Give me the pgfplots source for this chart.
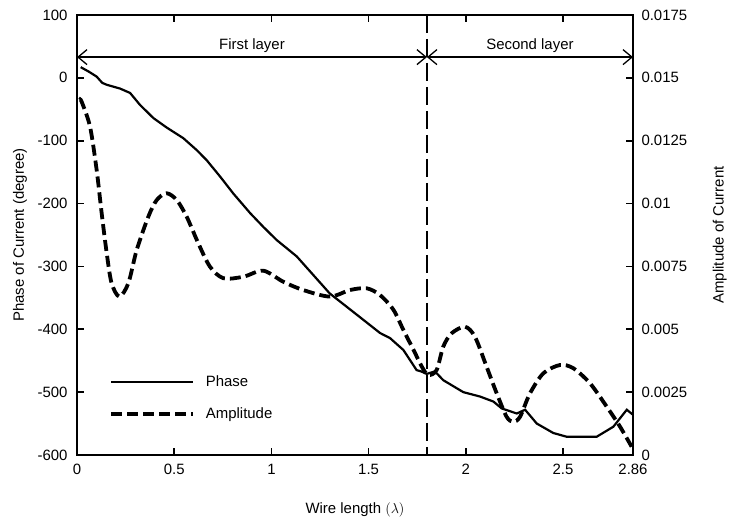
\documentclass[border=0pt]{standalone}
\usepackage{pgfplots}
\pgfplotsset{compat=1.18}
\usepackage{fontspec}
\setmainfont{Liberation Sans}
\usetikzlibrary{arrows.meta}

\pgfplotstableread{
x y
0.019 17
0.060 10
0.101 2
0.130 -8
0.153 -11
0.221 -17
0.273 -24
0.324 -43
0.393 -64
0.461 -79
0.547 -96
0.616 -115
0.667 -131
0.736 -157
0.804 -184
0.890 -215
0.958 -237
1.027 -258
1.130 -284
1.300 -343
1.473 -385
1.559 -406
1.610 -414
1.679 -433
1.747 -465
1.770 -467
1.799 -471
1.841 -467
1.884 -481
1.987 -500
2.073 -507
2.142 -515
2.185 -526
2.262 -534
2.305 -528
2.365 -550
2.450 -565
2.519 -571
2.673 -571
2.759 -555
2.828 -528
2.860 -536
}\phasedata

\pgfplotstableread{
x y
0.015 0.01412
0.024 0.01405
0.067 0.01306
0.101 0.01134
0.127 0.00961
0.153 0.00802
0.178 0.00683
0.218 0.00630
0.264 0.00683
0.307 0.00815
0.367 0.00948
0.410 0.01014
0.461 0.01041
0.513 0.01014
0.564 0.00948
0.624 0.00842
0.684 0.00749
0.753 0.00703
0.856 0.00709
0.958 0.00733
1.061 0.00689
1.164 0.00656
1.301 0.00630
1.404 0.00656
1.490 0.00663
1.559 0.00636
1.628 0.00577
1.679 0.00497
1.731 0.00418
1.774 0.00351
1.807 0.00318
1.850 0.00338
1.884 0.00431
1.927 0.00484
1.996 0.00510
2.047 0.00470
2.107 0.00351
2.159 0.00245
2.210 0.00152
2.244 0.00132
2.279 0.00152
2.330 0.00245
2.399 0.00325
2.485 0.00358
2.553 0.00345
2.639 0.00285
2.725 0.00192
2.793 0.00113
2.853 0.00033
}\ampdata

\begin{document}
\begin{tikzpicture}[font=\fontsize{15}{18}\selectfont]
\pgfplotsset{
  every axis/.append style={
    scale only axis, width=556bp, height=440bp,
    xmin=0, xmax=2.86,
    /pgf/number format/assume math mode=true,
    major tick length=7bp,
    axis line style={line width=1.6bp},
    every tick/.style={line width=1.6bp, black},
    tick label style={font=\fontsize{15}{18}\selectfont},
    label style={font=\fontsize{15}{18}\selectfont},
  },
  phasestyle/.style={black, line width=2.2bp},
  ampstyle/.style={black, line width=3.8bp, dash pattern=on 11bp off 5bp},
}
\begin{axis}[name=ax,
  ymin=-600, ymax=100,
  ytick={-600,-500,-400,-300,-200,-100,0,100},
  xtick={0,0.5,1,1.5,2,2.5,2.86},
  xticklabels={0,0.5,1,1.5,2,2.5,2.86},
  xtick pos=both, xticklabel pos=bottom, ytick pos=left,
  xticklabel style={yshift=-6bp},
  yticklabel style={xshift=-6bp},
  xlabel={Wire length $(\lambda)$},
  ylabel={Phase of Current (degree)},
  xlabel style={at={(axis description cs:0.5,-0.125)}, anchor=center},
  ylabel style={at={(axis description cs:-0.1025,0.5)}, anchor=center},
]
\addplot[phasestyle] table[x=x,y=y] {\phasedata};
\draw[black, line width=1.5bp, dash pattern=on 18bp off 6bp] (axis cs:1.8,100) -- (axis cs:1.8,-600);
\draw[black, line width=1.3bp, {Straight Barb[length=9bp,width=15bp]}-{Straight Barb[length=9bp,width=15bp]}] (axis cs:0,33) -- (axis cs:1.8,33);
\draw[black, line width=1.3bp, {Straight Barb[length=9bp,width=15bp]}-{Straight Barb[length=9bp,width=15bp]}] (axis cs:1.8,33) -- (axis cs:2.86,33);
\node at (axis cs:0.9,52) {First layer};
\node at (axis cs:2.33,52) {Second layer};
\end{axis}
\begin{axis}[
  ymin=0, ymax=0.0175,
  axis x line=none, axis y line*=right, ytick pos=right,
  scaled y ticks=false,
  ytick={0,0.0025,0.005,0.0075,0.01,0.0125,0.015,0.0175},
  yticklabels={0,0.0025,0.005,0.0075,0.01,0.0125,0.015,0.0175},
  yticklabel style={xshift=5bp},
  ylabel={Amplitude of Current},
  ylabel style={at={(axis description cs:1.156,0.5)}, anchor=center},
  legend style={at={(axis description cs:0.052,0.19)}, anchor=north west,
    draw=none, fill=none, font=\fontsize{15}{18}\selectfont, row sep=16bp,
    nodes={inner sep=2bp},
    /tikz/every odd column/.append style={column sep=9bp}},
  legend cell align=left,
  legend image code/.code={\draw[#1] (0bp,0bp) -- (82bp,0bp);},
]
\addlegendimage{phasestyle}
\addlegendentry{Phase}
\addplot[ampstyle, smooth, tension=0.5] table[x=x,y=y] {\ampdata};
\addlegendentry{Amplitude}
\end{axis}
\pgfresetboundingbox
\path[use as bounding box] ([shift={(-77bp,-74bp)}]ax.south west) rectangle ([shift={(96bp,15bp)}]ax.north east);
\end{tikzpicture}
\end{document}
